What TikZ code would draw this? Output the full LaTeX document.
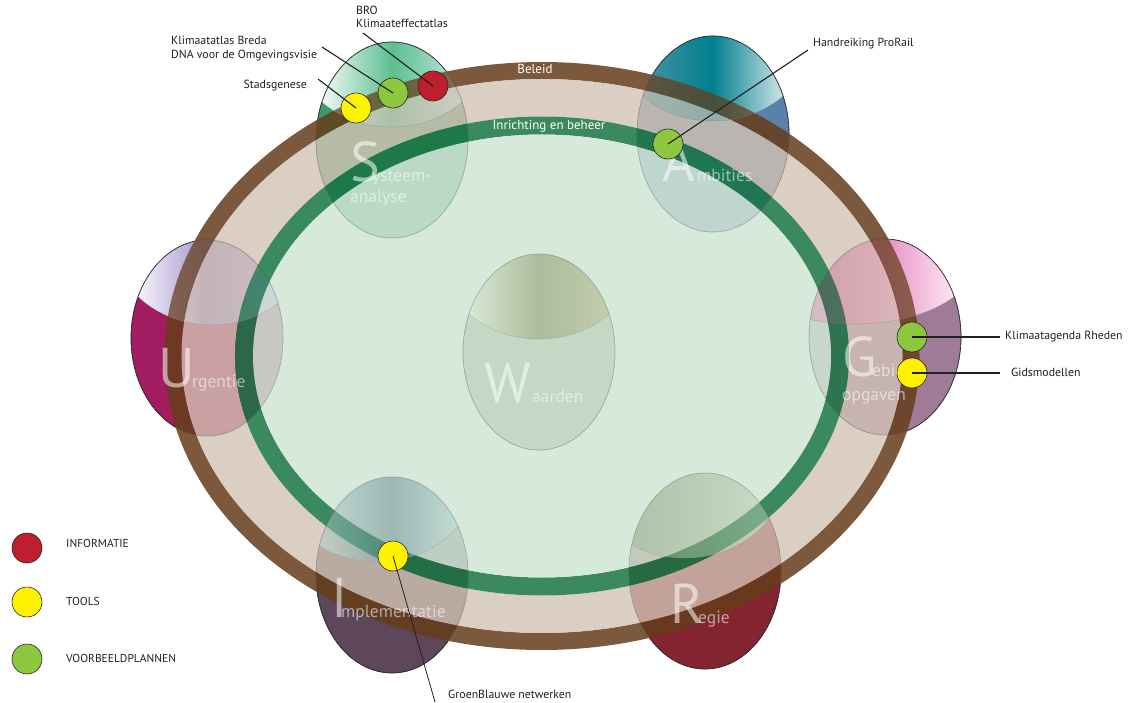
\documentclass[tikz,border=0pt]{standalone}
\usepackage{fontspec}
\setmainfont{PT Sans}
\definecolor{brownring}{HTML}{663D1A}
\definecolor{beigefill}{HTML}{D3C3B4}
\definecolor{greenring}{HTML}{187543}
\definecolor{lightgreen}{HTML}{D0E6D5}
\definecolor{dotred}{HTML}{BE1E2D}
\definecolor{dotyellow}{HTML}{FFF200}
\definecolor{dotgreen}{HTML}{8DC63F}
\definecolor{txt}{HTML}{231F20}
% egg colours
\definecolor{sM}{HTML}{5CBF8F}\definecolor{sR}{HTML}{CFE9EA}\definecolor{sB}{HTML}{3D9B6B}
\definecolor{aL}{HTML}{4E93A8}\definecolor{aM}{HTML}{00808E}\definecolor{aR}{HTML}{E4EEF1}\definecolor{aB}{HTML}{5B80AB}
\definecolor{gL}{HTML}{D64C98}\definecolor{gM}{HTML}{E990C4}\definecolor{gR}{HTML}{FDF0F7}\definecolor{gB}{HTML}{A07B98}
\definecolor{uM}{HTML}{A293CC}\definecolor{uR}{HTML}{C8BDE0}\definecolor{uB}{HTML}{A21C62}
\definecolor{wL}{HTML}{E9F2DD}\definecolor{wM}{HTML}{8E9A6C}\definecolor{wR}{HTML}{BDBA8E}\definecolor{wB}{HTML}{7A8E70}
\definecolor{iL}{HTML}{B9D8D3}\definecolor{iM}{HTML}{79969D}\definecolor{iR}{HTML}{C3E2DD}\definecolor{iB}{HTML}{5E475B}
\definecolor{rL}{HTML}{98A88A}\definecolor{rM}{HTML}{B0BEA0}\definecolor{rR}{HTML}{C8DCC8}\definecolor{rB}{HTML}{832530}
\tikzset{
  eggline/.style={draw=black, line width=0.7pt},
  glassline/.style={draw=gray, draw opacity=0.45, line width=0.5pt},
  bigl/.style={font=\fontsize{56}{56}\selectfont, text=white, text opacity=0.55, anchor=base west, inner sep=0pt},
  subw/.style={font=\fontsize{17.5}{20}\selectfont, text=white, text opacity=0.55, anchor=base west, inner sep=0pt},
  ringtxt/.style={font=\fontsize{13}{15}\selectfont, text=white, inner sep=0pt},
  lbl/.style={font=\fontsize{11.8}{14}\selectfont, text=txt, inner sep=0pt, anchor=base west, align=left},
  leg/.style={font=\fontsize{11.5}{13}\selectfont, text=txt, inner sep=0pt, anchor=west},
  dot/.style={circle, draw=black!85, line width=0.6pt, minimum size=30pt, inner sep=0pt},
  leader/.style={draw=txt, line width=1.1pt},
}
% #1 cx, #2 cy, #3 cap x shift, #4 cap rx, #5 cap ry, #6 left, #7 mid, #8 right, #9 body
\newcommand\eggbase[9]{%
  \begin{scope}
    \clip (#1,#2) ellipse [x radius=76, y radius=98];
    \fill[#9] (#1,#2) ellipse [x radius=76, y radius=98];
    \clip ({#1+#3},{#2-13-#5}) ellipse [x radius=#4, y radius=#5];
    \shade[left color=#6, right color=#8, middle color=#7] ({#1-77},{#2-99}) rectangle ({#1+77},{#2+99});
  \end{scope}
  \draw[eggline] (#1,#2) ellipse [x radius=76, y radius=98];}
% #9 opacity of the glass cap
\newcommand\eggglass[9]{%
  \begin{scope}
    \clip (#1,#2) ellipse [x radius=76, y radius=98];
    \draw[glassline] ({#1+#3},{#2-13-#5}) ellipse [x radius=#4, y radius=#5];
    \clip ({#1+#3},{#2-13-#5}) ellipse [x radius=#4, y radius=#5];
    \shade[fill opacity=#9, left color=#6, right color=#8, middle color=#7] ({#1-77},{#2-99}) rectangle ({#1+77},{#2+99});
  \end{scope}
  \draw[glassline] (#1,#2) ellipse [x radius=76, y radius=98];}
\begin{document}
\begin{tikzpicture}[x=1pt,y=-1pt]
\useasboundingbox (0,0) rectangle (1130,703);
\fill[white] (0,0) rectangle (1130,703);
% ---- base eggs
\eggbase{392}{140}{0}{100}{87}{white}{sM}{sR}{sB}
\eggbase{713}{134}{0}{100}{87}{aL}{aM}{aR}{aB}
\eggbase{885}{337}{-30}{120}{63}{gL}{gM}{gR}{gB}
\eggbase{207}{338}{5}{100}{87}{white}{uM}{uR}{uB}
\eggbase{539}{352}{0}{100}{87}{wL}{wM}{wR}{wB}
\eggbase{392}{575}{-15}{100}{87}{iL}{iM}{iR}{iB}
\eggbase{705}{571}{-20}{100}{87}{rL}{rM}{rR}{rB}
% ---- rings
\fill[brownring, fill opacity=0.85, even odd rule] (542,356) ellipse [x radius=377.5, y radius=294] (542,356) ellipse [x radius=360.5, y radius=277];
\fill[beigefill, fill opacity=0.8, even odd rule] (542,356) ellipse [x radius=360.5, y radius=277] (542,356) ellipse [x radius=307, y radius=239.5];
\fill[greenring, fill opacity=0.85, even odd rule] (542,356) ellipse [x radius=307, y radius=239.5] (542,356) ellipse [x radius=289, y radius=221.5];
\fill[lightgreen, fill opacity=0.85] (542,356) ellipse [x radius=289, y radius=221.5];
% ---- glass
\eggglass{392}{140}{0}{100}{87}{white}{sM}{sR}{0.15}
\eggglass{713}{134}{0}{100}{87}{aL}{aM}{aR}{0.15}
\eggglass{885}{337}{-30}{120}{63}{gL}{gM}{gR}{0.15}
\eggglass{207}{338}{5}{100}{87}{white}{uM}{uR}{0.15}
\eggglass{539}{352}{0}{100}{87}{wL}{wM}{wR}{0.45}
\eggglass{392}{575}{-15}{100}{87}{iL}{iM}{iR}{0.5}
\eggglass{705}{571}{-20}{100}{87}{rL}{rM}{rR}{0.5}
% ---- ring labels
\node[ringtxt] (beleid) at (535,68.5) {Beleid};
\node[ringtxt] (inrichting) at (549,126) {Inrichting en beheer};
% ---- egg texts
\node[bigl] (tS) at (350,182) {S};
\node[subw] (tS2) at (372,182) {ysteem-};
\node[subw] (tS3) at (350,203) {analyse};
\node[bigl] (tA) at (662,182) {A};
\node[subw] (tA2) at (697,182) {mbities};
\node[bigl] (tG) at (842,377) {G};
\node[subw] (tG2) at (872,377) {ebieds-};
\node[subw] (tG3) at (842,400) {opgaven};
\node[bigl] (tU) at (158,388) {U};
\node[subw] (tU2) at (192,388) {rgentie};
\node[bigl] (tW) at (484,402) {W};
\node[subw] (tW2) at (532,402) {aarden};
\node[bigl] (tI) at (331,617) {I};
\node[subw] (tI2) at (341,617) {mplementatie};
\node[bigl] (tR) at (670,623) {R};
\node[subw] (tR2) at (698,623) {egie};
% ---- dots
\node[dot, fill=dotyellow] (dStad) at (356,108) {};
\node[dot, fill=dotgreen] (dKlim) at (393,93) {};
\node[dot, fill=dotred] (dBro) at (433,86) {};
\node[dot, fill=dotgreen] (dPro) at (668,144) {};
\node[dot, fill=dotgreen] (dRhe) at (912,337) {};
\node[dot, fill=dotyellow] (dGids) at (912,373) {};
\node[dot, fill=dotyellow] (dGB) at (393,556) {};
% ---- labels
\node[lbl] (lBro) at (356,15) {BRO};
\node[lbl] (lBro2) at (356,28) {Klimaateffectatlas};
\node[lbl] (lKlim) at (171,45) {Klimaatatlas Breda};
\node[lbl] (lKlim2) at (171,59) {DNA voor de Omgevingsvisie};
\node[lbl, anchor=base east] (lStad) at (307,89) {Stadsgenese};
\node[lbl] (lPro) at (813,47) {Handreiking ProRail};
\node[lbl] (lRhe) at (1005,340) {Klimaatagenda Rheden};
\node[lbl] (lGids) at (1011,377) {Gidsmodellen};
\node[lbl] (lGB) at (448,698) {GroenBlauwe netwerken};
% ---- leader ends
\coordinate (cStad) at (318,79);
\coordinate (cKlim) at (322,47);
\coordinate (cBro) at (363,33);
\coordinate (cPro) at (808,50);
\coordinate (cRhe) at (1000,337);
\coordinate (cGids) at (1000,373);
\coordinate (cGB) at (435,702);
\draw[leader] (cStad) -- (dStad.center);
\draw[leader] (cKlim) -- (dKlim.center);
\draw[leader] (cBro) -- (dBro.center);
\draw[leader] (cPro) -- (dPro.center);
\draw[leader] (cRhe) -- (dRhe.center);
\draw[leader] (cGids) -- (dGids.center);
\draw[txt, line width=0.8pt] (cGB) -- (dGB.center);
% ---- legend
\node[dot, fill=dotred] (gRed) at (27,548) {};
\node[dot, fill=dotyellow] (gYel) at (27,602) {};
\node[dot, fill=dotgreen] (gGre) at (27,659) {};
\node[leg] (tInfo) at (66,543) {INFORMATIE};
\node[leg] (tTools) at (66,601) {TOOLS};
\node[leg] (tVoor) at (66,658) {VOORBEELDPLANNEN};
\end{tikzpicture}
\end{document}
